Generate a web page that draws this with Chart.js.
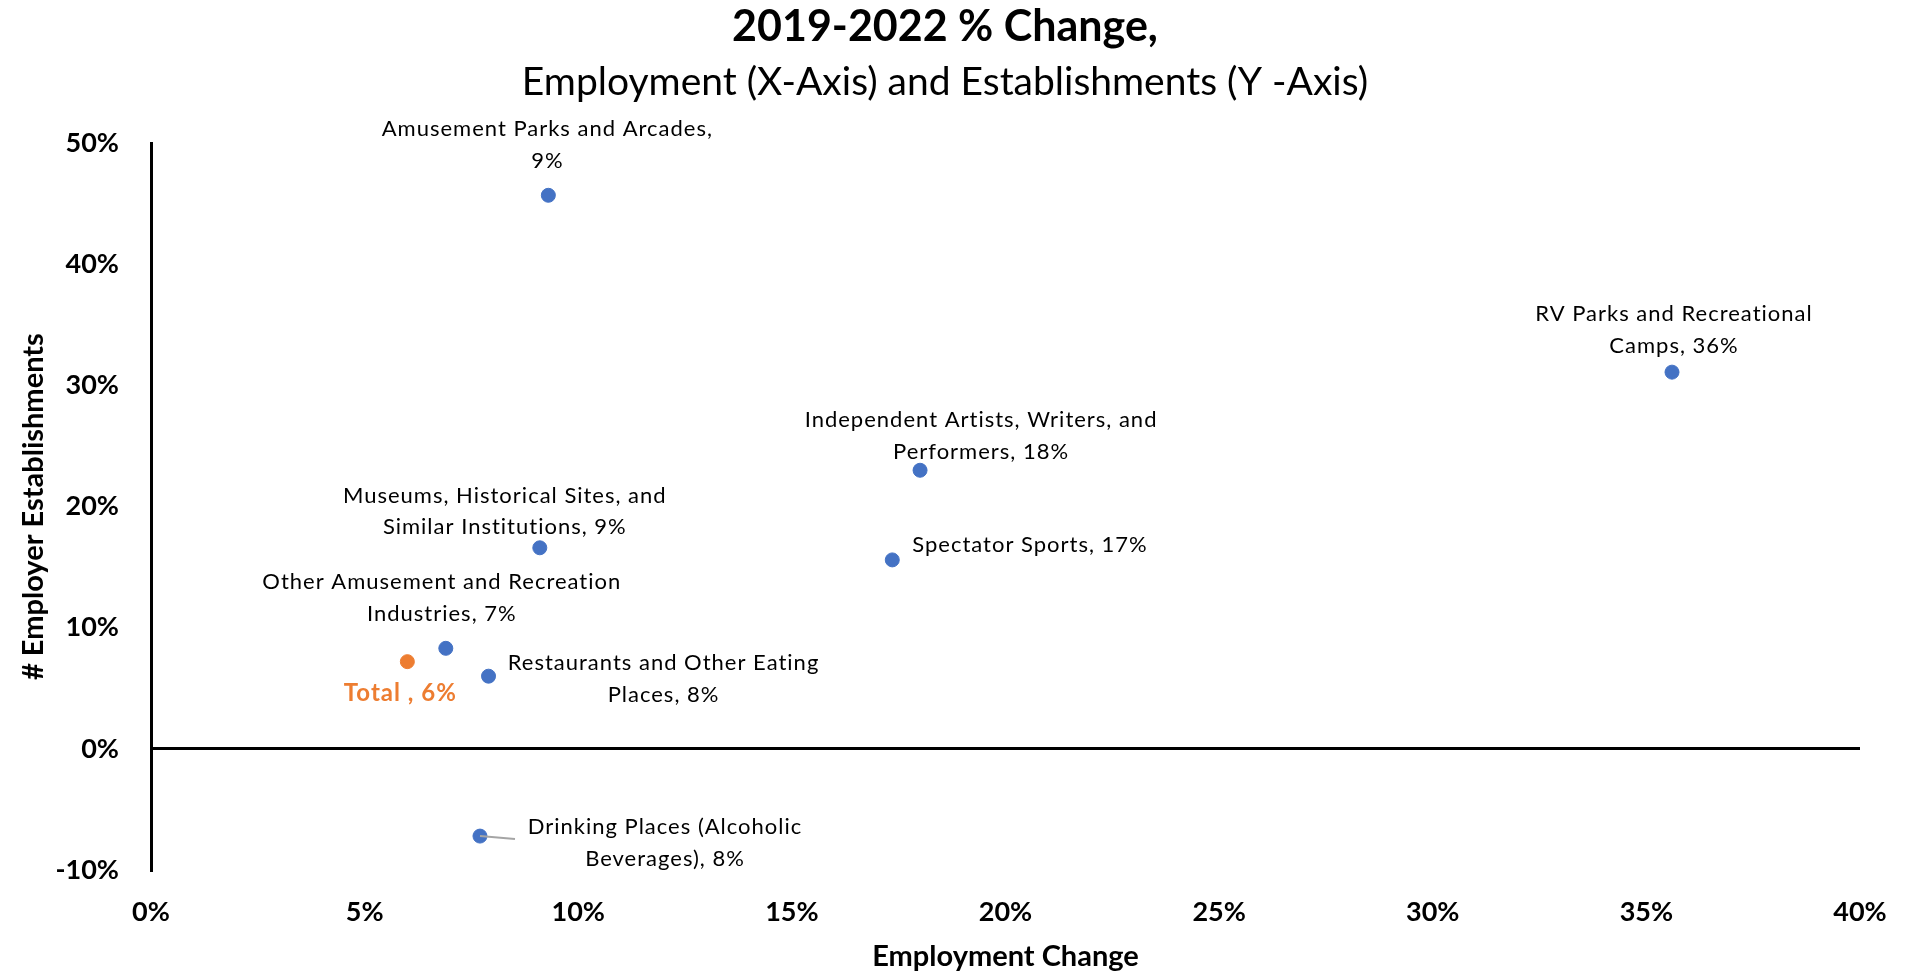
<!DOCTYPE html>
<html>
<head>
<meta charset="utf-8">
<title>2019-2022 % Change</title>
<script src="https://cdn.jsdelivr.net/npm/chart.js@4.4.1/dist/chart.umd.min.js"></script>
<style>
  html, body { margin: 0; padding: 0; background: #fff; }
  #wrap { width: 1906px; height: 974px; }
</style>
</head>
<body>
<div id="wrap"><canvas id="chart"></canvas></div>
<script>
// industries, 2019-2022 % change
const industries = [
  'Amusement Parks and Arcades',
  'RV Parks and Recreational Camps',
  'Independent Artists, Writers, and Performers',
  'Spectator Sports',
  'Museums, Historical Sites, and Similar Institutions',
  'Other Amusement and Recreation Industries',
  'Restaurants and Other Eating Places',
  'Drinking Places (Alcoholic Beverages)'
]
const employmentChange = [9.3, 35.6, 18.0, 17.35, 9.1, 6.9, 7.9, 7.7]
const establishmentChange = [45.7, 31.1, 23.0, 15.6, 16.6, 8.3, 6.0, -7.2]

const totalName = 'Total'
const totalEmployment = [6.0]
const totalEstablishments = [7.2]

const xTicks = [0, 5, 10, 15, 20, 25, 30, 35, 40]
const yTicks = [-10, 0, 10, 20, 30, 40, 50]

// where each label sits relative to its point (px)
const labelSpots = [
  { dx: -1, dy: -66, split: 4 },
  { dx: 2, dy: -58, split: 4 },
  { dx: 61, dy: -50, split: 4 },
  { dx: 20, dy: -15, align: 'left' },
  { dx: -35, dy: -52, split: 4 },
  { dx: -4, dy: -66, split: 4 },
  { dx: 175, dy: -13, split: 4 },
  { dx: 185, dy: -9, split: 3, leader: [35, 3] }
]
const totalSpot = { dx: -7, dy: 32 }

const BLUE = '#4472C4'
const ORANGE = '#ED7D31'

Chart.defaults.font.family = 'Lato'
Chart.defaults.color = '#000'

const pctLabel = v => Math.round(v) + '%'

const pointLabels = {
  id: 'pointLabels',
  afterDatasetsDraw(chart) {
    const ctx = chart.ctx
    const lineGap = 31.5
    ctx.save()
    ctx.textBaseline = 'middle'
    ctx.letterSpacing = '1px'

    const pts = chart.getDatasetMeta(0).data
    pts.forEach((pt, i) => {
      const spot = labelSpots[i]
      const words = (industries[i] + ', ' + pctLabel(employmentChange[i])).split(' ')
      const lines = spot.split ? [words.slice(0, spot.split).join(' '), words.slice(spot.split).join(' ')] : [words.join(' ')]
      if (spot.leader) {
        ctx.strokeStyle = '#A5A5A5'
        ctx.lineWidth = 2
        ctx.beginPath()
        ctx.moveTo(pt.x, pt.y)
        ctx.lineTo(pt.x + spot.leader[0], pt.y + spot.leader[1])
        ctx.stroke()
      }
      ctx.font = '22px Lato'
      ctx.fillStyle = '#000'
      ctx.textAlign = spot.align || 'center'
      lines.forEach((t, k) => ctx.fillText(t, pt.x + spot.dx, pt.y + spot.dy + k * lineGap))
    })

    const tp = chart.getDatasetMeta(1).data[0]
    ctx.font = 'bold 24px Lato'
    ctx.fillStyle = ORANGE
    ctx.textAlign = 'center'
    ctx.fillText(totalName + ' , ' + pctLabel(totalEmployment[0]), tp.x + totalSpot.dx, tp.y + totalSpot.dy)
    ctx.restore()
  }
}

const chart_config = {
  type: 'scatter',
  data: {
    datasets: [
      {
        label: 'Industries',
        data: employmentChange.map((x, i) => ({ x: x, y: establishmentChange[i] })),
        backgroundColor: BLUE,
        borderColor: BLUE,
        pointRadius: 7
      },
      {
        label: totalName,
        data: totalEmployment.map((x, i) => ({ x: x, y: totalEstablishments[i] })),
        backgroundColor: ORANGE,
        borderColor: ORANGE,
        pointRadius: 7
      }
    ]
  },
  options: {
    responsive: true,
    maintainAspectRatio: false,
    animation: false,
    layout: { padding: { left: 0, right: 16, top: 0, bottom: 0 } },
    plugins: {
      legend: { display: false },
      tooltip: { enabled: false },
      title: {
        display: true,
        text: '2019-2022 % Change,',
        font: { size: 43, weight: 'bold' },
        color: '#000',
        padding: { top: 1, bottom: 6 }
      },
      subtitle: {
        display: true,
        text: 'Employment (X-Axis) and Establishments (Y -Axis)',
        font: { size: 39 },
        color: '#000',
        padding: { top: 0, bottom: 37.8 }
      }
    },
    scales: {
      x: {
        type: 'linear',
        min: xTicks[0],
        max: xTicks[xTicks.length - 1],
        afterFit(scale) {
          scale.height = 104
          scale.paddingLeft = 0
          scale.paddingRight = 46
        },
        ticks: {
          stepSize: xTicks[1] - xTicks[0],
          padding: 26,
          font: { size: 27, weight: 'bold' },
          color: '#000',
          callback: v => v + '%'
        },
        grid: { display: false, drawTicks: false },
        border: { display: false },
        title: {
          display: true,
          text: 'Employment Change',
          font: { size: 29, weight: 'bold' },
          color: '#000',
          padding: { top: 0, bottom: 0 }
        }
      },
      y: {
        type: 'linear',
        min: yTicks[0],
        max: yTicks[yTicks.length - 1],
        afterFit(scale) { scale.width = 151 },
        ticks: {
          stepSize: yTicks[1] - yTicks[0],
          padding: 32,
          font: { size: 27, weight: 'bold' },
          color: '#000',
          callback: v => v + '%'
        },
        grid: {
          drawTicks: false,
          color: c => (c.tick && c.tick.value === 0 ? '#000' : 'rgba(0,0,0,0)'),
          lineWidth: 3
        },
        border: { display: true, color: '#000', width: 3 },
        title: {
          display: true,
          text: '# Employer Establishments',
          font: { size: 29, weight: 'bold' },
          color: '#000',
          padding: { top: 16, bottom: 0 }
        }
      }
    }
  },
  plugins: [pointLabels]
}

const chart = new Chart(document.getElementById('chart'), chart_config)
</script>
</body>
</html>
